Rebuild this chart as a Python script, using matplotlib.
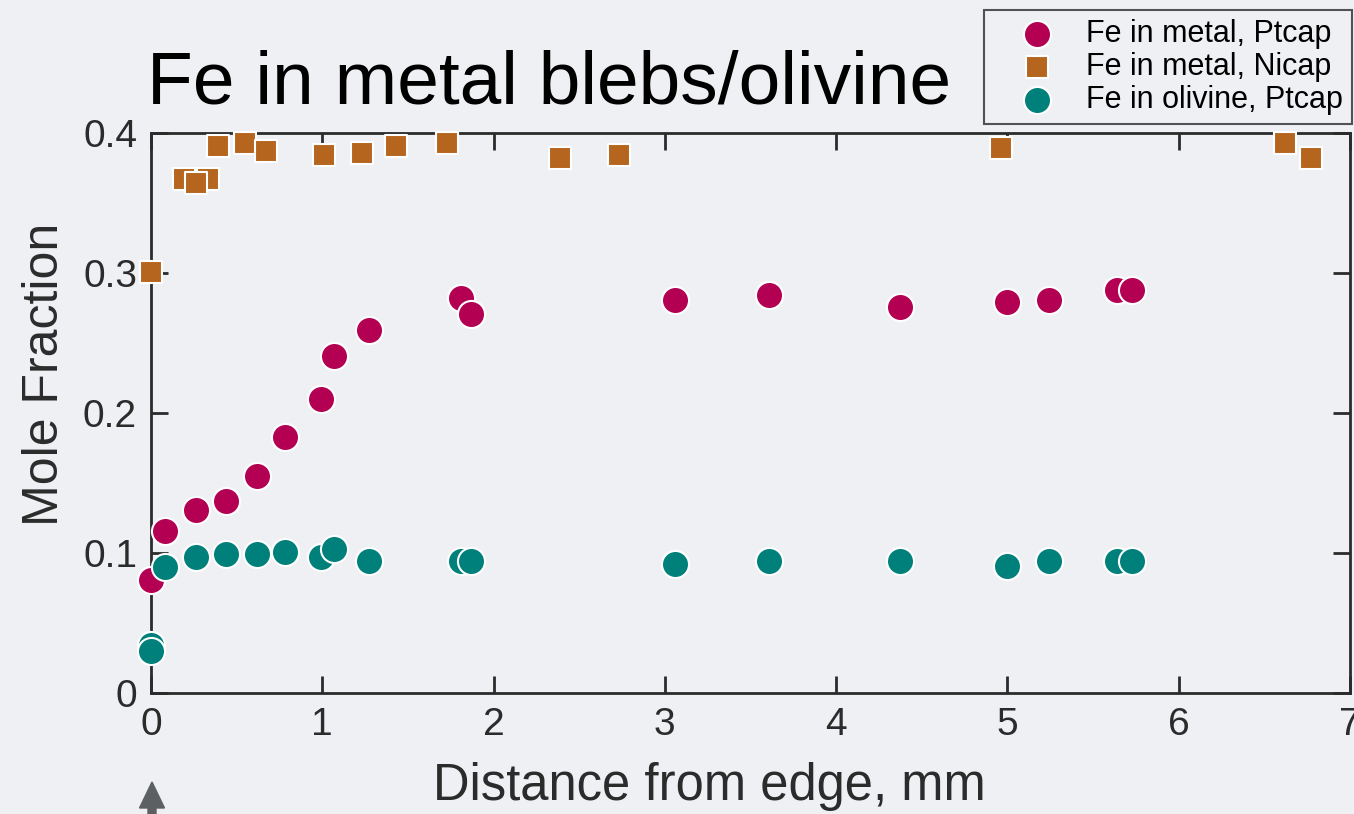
"""Fe mole fraction in metal blebs and olivine versus distance from the capsule edge."""

import matplotlib

matplotlib.use("Agg")
import matplotlib.pyplot as plt
from matplotlib.patches import FancyArrow
from matplotlib.transforms import IdentityTransform

# --- data ---
pt_metal_x = [0.00, 0.08, 0.26, 0.44, 0.62, 0.78, 0.99, 1.07, 1.27, 1.81, 1.87,
              3.06, 3.61, 4.37, 5.00, 5.24, 5.64, 5.73]
pt_metal_y = [0.081, 0.116, 0.131, 0.137, 0.155, 0.183, 0.210, 0.241, 0.259, 0.282, 0.271,
              0.281, 0.284, 0.276, 0.279, 0.281, 0.288, 0.288]

ni_metal_x = [0.00, 0.19, 0.33, 0.26, 0.39, 0.55, 0.67, 1.01, 1.23, 1.43, 1.73,
              2.39, 2.73, 4.96, 6.62, 6.77]
ni_metal_y = [0.301, 0.367, 0.367, 0.364, 0.391, 0.393, 0.387, 0.384, 0.386, 0.391, 0.393,
              0.382, 0.384, 0.389, 0.393, 0.382]

pt_olivine_x = [0.00, 0.00, 0.08, 0.26, 0.44, 0.62, 0.78, 0.99, 1.07, 1.27, 1.81, 1.87,
                3.06, 3.61, 4.37, 5.00, 5.24, 5.64, 5.73]
pt_olivine_y = [0.034, 0.030, 0.090, 0.097, 0.099, 0.099, 0.101, 0.097, 0.103, 0.094, 0.094, 0.094,
                0.092, 0.094, 0.094, 0.091, 0.094, 0.094, 0.094]

x_ticks = [0, 1, 2, 3, 4, 5, 6, 7]
y_ticks = [0, 0.1, 0.2, 0.3, 0.4]
y_tick_labels = ["0", "0.1", "0.2", "0.3", "0.4"]

BG = "#eff0f4"
MAGENTA = "#b30052"
ORANGE = "#b5651d"
TEAL = "#00807b"
INK = "#2b2b2b"

plt.rcParams["font.family"] = ["Liberation Sans", "DejaVu Sans"]

W, H = 1354, 814
fig = plt.figure(figsize=(W / 100, H / 100), dpi=100, facecolor=BG)
ax = fig.add_axes([151 / W, 1 - 693 / H, 1199 / W, 560 / H])
ax.set_facecolor(BG)

ax.scatter(ni_metal_x, ni_metal_y, s=260, marker="s", color=ORANGE,
           edgecolors="white", linewidths=1.5, zorder=3, clip_on=False,
           label="Fe in metal, Nicap")
ax.scatter(pt_metal_x, pt_metal_y, s=380, marker="o", color=MAGENTA,
           edgecolors="white", linewidths=1.5, zorder=4, clip_on=False,
           label="Fe in metal, Ptcap")
ax.scatter(pt_olivine_x, pt_olivine_y, s=380, marker="o", color=TEAL,
           edgecolors="white", linewidths=1.5, zorder=5, clip_on=False,
           label="Fe in olivine, Ptcap")

ax.set_xlim(0, 7)
ax.set_ylim(0, 0.4)
ax.set_xticks(x_ticks)
ax.set_yticks(y_ticks)
ax.set_yticklabels(y_tick_labels)
ax.tick_params(direction="in", length=12, width=2, color=INK, labelcolor=INK,
               labelsize=28, top=True, right=True, pad=10)
for spine in ax.spines.values():
    spine.set_color(INK)
    spine.set_linewidth(2)

# axis titles sit off-centre on the slide, so place them on the figure
fig.text(709 / W, 1 - 800 / H, "Distance from edge, mm", fontsize=36.5, color=INK,
         ha="center", va="baseline")
fig.text(45 / W, 1 - 374 / H, "Mole Fraction", fontsize=36, color=INK,
         rotation=90, ha="center", va="center")

fig.text(147 / W, 1 - 103 / H, "Fe in metal blebs/olivine", fontsize=54, color="black",
         ha="left", va="baseline")

handles, labels = ax.get_legend_handles_labels()
order = [1, 0, 2]
leg = fig.legend([handles[i] for i in order], [labels[i] for i in order],
                 loc="upper right", bbox_to_anchor=(1352 / W, 1 - 10 / H),
                 fontsize=22, frameon=True, fancybox=False, markerscale=1.0,
                 borderpad=0.3, labelspacing=0.1, handlelength=2.9,
                 handletextpad=0.15, borderaxespad=0.0)
leg.get_frame().set_edgecolor(INK)
leg.get_frame().set_linewidth(1.5)
leg.get_frame().set_facecolor(BG)

# arrow marking the capsule edge below the x axis
fig.patches.append(FancyArrow(
    152, 0, 0, H - 782, width=8, head_width=25, head_length=26,
    length_includes_head=True, color="#5d6062", transform=IdentityTransform()))

fig.savefig("out.png", dpi=100, facecolor=BG)
